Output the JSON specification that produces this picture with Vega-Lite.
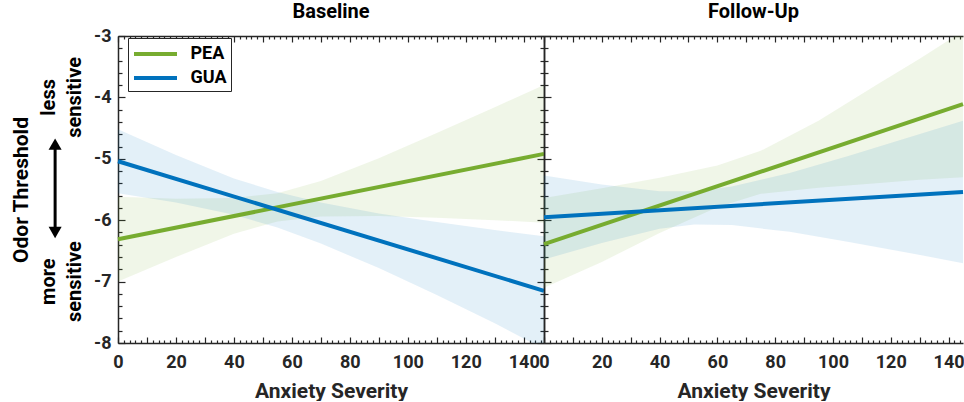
{
  "$schema": "https://vega.github.io/schema/vega-lite/v6.json",
  "background": "white",
  "padding": {"left": 10, "top": 2, "right": 0, "bottom": 0},
  "spacing": 0,
  "bounds": "flush",
  "config": {
    "font": "Roboto",
    "view": {"stroke": null},
    "axis": {
      "labelFont": "Roboto", "labelFontWeight": "bold", "labelFontSize": 18, "labelColor": "#262626",
      "titleFont": "Roboto", "titleFontWeight": "bold", "titleFontSize": 21, "titleColor": "#262626",
      "domainColor": "#262626", "domainWidth": 1.5, "tickColor": "#262626", "tickWidth": 1.2,
      "grid": false, "labelOverlap": false, "labelFlush": false, "labelBound": false, "minExtent": 0
    },
    "title": {"font": "Roboto", "fontWeight": "bold", "fontSize": 20, "color": "#000000"},
    "text": {"font": "Roboto", "fontWeight": "bold", "fontSize": 20, "color": "#000000"}
  },
  "datasets": {
    "bands": [
      {"phase": "Baseline", "odor": "PEA", "x": 0, "lo": -7.00, "hi": -5.62},
      {"phase": "Baseline", "odor": "PEA", "x": 20, "lo": -6.60, "hi": -5.65},
      {"phase": "Baseline", "odor": "PEA", "x": 40, "lo": -6.22, "hi": -5.64},
      {"phase": "Baseline", "odor": "PEA", "x": 55, "lo": -6.02, "hi": -5.56},
      {"phase": "Baseline", "odor": "PEA", "x": 70, "lo": -5.94, "hi": -5.36},
      {"phase": "Baseline", "odor": "PEA", "x": 90, "lo": -5.93, "hi": -4.99},
      {"phase": "Baseline", "odor": "PEA", "x": 110, "lo": -5.96, "hi": -4.58},
      {"phase": "Baseline", "odor": "PEA", "x": 130, "lo": -6.00, "hi": -4.16},
      {"phase": "Baseline", "odor": "PEA", "x": 147, "lo": -6.04, "hi": -3.80},
      {"phase": "Baseline", "odor": "GUA", "x": 0, "lo": -5.56, "hi": -4.52},
      {"phase": "Baseline", "odor": "GUA", "x": 20, "lo": -5.71, "hi": -4.94},
      {"phase": "Baseline", "odor": "GUA", "x": 40, "lo": -5.91, "hi": -5.32},
      {"phase": "Baseline", "odor": "GUA", "x": 55, "lo": -6.12, "hi": -5.54},
      {"phase": "Baseline", "odor": "GUA", "x": 70, "lo": -6.38, "hi": -5.71},
      {"phase": "Baseline", "odor": "GUA", "x": 90, "lo": -6.78, "hi": -5.89},
      {"phase": "Baseline", "odor": "GUA", "x": 110, "lo": -7.22, "hi": -6.03},
      {"phase": "Baseline", "odor": "GUA", "x": 130, "lo": -7.68, "hi": -6.16},
      {"phase": "Baseline", "odor": "GUA", "x": 147, "lo": -8.10, "hi": -6.26},
      {"phase": "Follow-Up", "odor": "PEA", "x": 0, "lo": -7.10, "hi": -5.64},
      {"phase": "Follow-Up", "odor": "PEA", "x": 20, "lo": -6.68, "hi": -5.48},
      {"phase": "Follow-Up", "odor": "PEA", "x": 40, "lo": -6.21, "hi": -5.31},
      {"phase": "Follow-Up", "odor": "PEA", "x": 60, "lo": -5.79, "hi": -5.11},
      {"phase": "Follow-Up", "odor": "PEA", "x": 75, "lo": -5.57, "hi": -4.87},
      {"phase": "Follow-Up", "odor": "PEA", "x": 95, "lo": -5.47, "hi": -4.38},
      {"phase": "Follow-Up", "odor": "PEA", "x": 115, "lo": -5.40, "hi": -3.80},
      {"phase": "Follow-Up", "odor": "PEA", "x": 130, "lo": -5.34, "hi": -3.37},
      {"phase": "Follow-Up", "odor": "PEA", "x": 145, "lo": -5.30, "hi": -2.92},
      {"phase": "Follow-Up", "odor": "GUA", "x": 0, "lo": -6.64, "hi": -5.27},
      {"phase": "Follow-Up", "odor": "GUA", "x": 20, "lo": -6.37, "hi": -5.42},
      {"phase": "Follow-Up", "odor": "GUA", "x": 40, "lo": -6.14, "hi": -5.53},
      {"phase": "Follow-Up", "odor": "GUA", "x": 52, "lo": -6.07, "hi": -5.53},
      {"phase": "Follow-Up", "odor": "GUA", "x": 65, "lo": -6.08, "hi": -5.45},
      {"phase": "Follow-Up", "odor": "GUA", "x": 85, "lo": -6.19, "hi": -5.23},
      {"phase": "Follow-Up", "odor": "GUA", "x": 105, "lo": -6.35, "hi": -4.96},
      {"phase": "Follow-Up", "odor": "GUA", "x": 125, "lo": -6.52, "hi": -4.67},
      {"phase": "Follow-Up", "odor": "GUA", "x": 145, "lo": -6.70, "hi": -4.38}
    ],
    "fits": [
      {"phase": "Baseline", "odor": "PEA", "x": 0, "fit": -6.31},
      {"phase": "Baseline", "odor": "PEA", "x": 147, "fit": -4.92},
      {"phase": "Baseline", "odor": "GUA", "x": 0, "fit": -5.04},
      {"phase": "Baseline", "odor": "GUA", "x": 147, "fit": -7.15},
      {"phase": "Follow-Up", "odor": "PEA", "x": 0, "fit": -6.39},
      {"phase": "Follow-Up", "odor": "PEA", "x": 145, "fit": -4.11},
      {"phase": "Follow-Up", "odor": "GUA", "x": 0, "fit": -5.95},
      {"phase": "Follow-Up", "odor": "GUA", "x": 145, "fit": -5.54}
    ]
  },
  "resolve": {"scale": {"color": "independent"}, "legend": {"color": "independent"}},
  "hconcat": [
    {
      "width": 426,
      "height": 307,
      "title": {"text": "Baseline", "offset": 5},
      "resolve": {"axis": {"x": "independent", "y": "independent"}},
      "layer": [
        {
          "data": {"name": "bands"},
          "transform": [{"filter": "datum.phase === 'Baseline'"}],
          "mark": {"type": "area", "clip": true, "fillOpacity": 0.11},
          "encoding": {
            "x": {"field": "x", "type": "quantitative", "scale": {"domain": [0, 147], "nice": false, "zero": false},
              "axis": {"orient": "bottom", "title": "Anxiety Severity", "titlePadding": 6, "tickCount": 74,
                "labelExpr": "datum.value % 20 === 0 ? datum.label : ''",
                "tickSize": {"condition": {"test": "datum.value % 10 === 0", "value": -6}, "value": -3},
                "labelPadding": 16}},
            "y": {"field": "lo", "type": "quantitative", "scale": {"domain": [-8, -3], "nice": false, "zero": false},
              "axis": {"orient": "left", "title": "Odor Threshold", "titlePadding": 62, "titleColor": "#000000", "tickCount": 25,
                "labelExpr": "datum.value === round(datum.value) ? '' + datum.value : ''",
                "tickSize": {"condition": {"test": "datum.value === round(datum.value)", "value": -7}, "value": -4},
                "labelPadding": 14}},
            "y2": {"field": "hi"},
            "color": {"field": "odor", "type": "nominal", "scale": {"domain": ["PEA", "GUA"], "range": ["#77AC30", "#0072BD"]}}
          }
        },
        {
          "data": {"name": "fits"},
          "transform": [{"filter": "datum.phase === 'Baseline'"}],
          "mark": {"type": "line", "strokeWidth": 4},
          "encoding": {
            "x": {"field": "x", "type": "quantitative", "scale": {"domain": [0, 147], "nice": false, "zero": false},
              "axis": {"orient": "top", "title": null, "labels": false, "tickCount": 74,
                "tickSize": {"condition": {"test": "datum.value % 10 === 0", "value": -6}, "value": -3}}},
            "y": {"field": "fit", "type": "quantitative", "scale": {"domain": [-8, -3], "nice": false, "zero": false},
              "axis": {"orient": "right", "title": null, "labels": false, "tickCount": 25,
                "tickSize": {"condition": {"test": "datum.value === round(datum.value)", "value": -7}, "value": -4}}},
            "color": {"field": "odor", "type": "nominal",
              "scale": {"domain": ["PEA", "GUA"], "range": ["#77AC30", "#0072BD"]},
              "legend": {"orient": "none", "legendX": 10, "legendY": 2, "title": null, "symbolType": "M-2.15,0H2.15",
                "symbolStrokeWidth": 4, "symbolSize": 400, "symbolOffset": 11.5, "symbolOpacity": 1, "symbolFillColor": "transparent",
                "labelFont": "Roboto", "labelFontWeight": "bold",
                "labelFontSize": 18, "labelColor": "#000000", "labelOffset": 23, "strokeColor": "#262626",
                "fillColor": "#ffffff", "padding": 4, "rowPadding": 3, "columnPadding": 0, "cornerRadius": 0}}
          }
        },
        {
          "data": {"values": [{}]},
          "mark": {"type": "text", "text": "less", "angle": 270, "align": "center", "baseline": "middle"},
          "encoding": {
            "x": {"datum": -23.8, "scale": {"domain": [0, 147], "nice": false, "zero": false}, "axis": null},
            "y": {"datum": -4.0, "scale": {"domain": [-8, -3], "nice": false, "zero": false}, "axis": null}
          }
        },
        {
          "data": {"values": [{}]},
          "mark": {"type": "text", "text": "sensitive", "angle": 270, "align": "center", "baseline": "middle"},
          "encoding": {
            "x": {"datum": -14.8, "scale": {"domain": [0, 147], "nice": false, "zero": false}, "axis": null},
            "y": {"datum": -4.0, "scale": {"domain": [-8, -3], "nice": false, "zero": false}, "axis": null}
          }
        },
        {
          "data": {"values": [{}]},
          "mark": {"type": "text", "text": "more", "angle": 270, "align": "center", "baseline": "middle"},
          "encoding": {
            "x": {"datum": -23.8, "scale": {"domain": [0, 147], "nice": false, "zero": false}, "axis": null},
            "y": {"datum": -7.0, "scale": {"domain": [-8, -3], "nice": false, "zero": false}, "axis": null}
          }
        },
        {
          "data": {"values": [{}]},
          "mark": {"type": "text", "text": "sensitive", "angle": 270, "align": "center", "baseline": "middle"},
          "encoding": {
            "x": {"datum": -14.8, "scale": {"domain": [0, 147], "nice": false, "zero": false}, "axis": null},
            "y": {"datum": -7.0, "scale": {"domain": [-8, -3], "nice": false, "zero": false}, "axis": null}
          }
        },
        {
          "data": {"values": [{}]},
          "mark": {"type": "rule", "strokeWidth": 3, "color": "#000000"},
          "encoding": {
            "x": {"datum": -21.7, "scale": {"domain": [0, 147], "nice": false, "zero": false}, "axis": null},
            "y": {"datum": -4.8, "scale": {"domain": [-8, -3], "nice": false, "zero": false}, "axis": null},
            "y2": {"datum": -6.17}
          }
        },
        {
          "data": {"values": [{}]},
          "mark": {"type": "point", "shape": "triangle-up", "filled": true, "size": 170, "color": "#000000", "opacity": 1},
          "encoding": {
            "x": {"datum": -21.7, "scale": {"domain": [0, 147], "nice": false, "zero": false}, "axis": null},
            "y": {"datum": -4.76, "scale": {"domain": [-8, -3], "nice": false, "zero": false}, "axis": null}
          }
        },
        {
          "data": {"values": [{}]},
          "mark": {"type": "point", "shape": "triangle-down", "filled": true, "size": 170, "color": "#000000", "opacity": 1},
          "encoding": {
            "x": {"datum": -21.7, "scale": {"domain": [0, 147], "nice": false, "zero": false}, "axis": null},
            "y": {"datum": -6.2, "scale": {"domain": [-8, -3], "nice": false, "zero": false}, "axis": null}
          }
        }
      ]
    },
    {
      "width": 419,
      "height": 307,
      "title": {"text": "Follow-Up", "offset": 13},
      "resolve": {"axis": {"x": "independent", "y": "independent"}},
      "layer": [
        {
          "data": {"name": "bands"},
          "transform": [{"filter": "datum.phase === 'Follow-Up'"}],
          "mark": {"type": "area", "clip": true, "fillOpacity": 0.11},
          "encoding": {
            "x": {"field": "x", "type": "quantitative", "scale": {"domain": [0, 145], "nice": false, "zero": false},
              "axis": {"orient": "bottom", "title": "Anxiety Severity", "titlePadding": 6, "tickCount": 73,
                "labelExpr": "datum.value % 20 === 0 ? datum.label : ''",
                "tickSize": {"condition": {"test": "datum.value % 10 === 0", "value": -6}, "value": -3},
                "labelPadding": 16}},
            "y": {"field": "lo", "type": "quantitative", "scale": {"domain": [-8, -3], "nice": false, "zero": false},
              "axis": {"orient": "left", "title": null, "labels": false, "tickCount": 25,
                "tickSize": {"condition": {"test": "datum.value === round(datum.value)", "value": -7}, "value": -4}}},
            "y2": {"field": "hi"},
            "color": {"field": "odor", "type": "nominal", "scale": {"domain": ["PEA", "GUA"], "range": ["#77AC30", "#0072BD"]}, "legend": null}
          }
        },
        {
          "data": {"name": "fits"},
          "transform": [{"filter": "datum.phase === 'Follow-Up'"}],
          "mark": {"type": "line", "strokeWidth": 4},
          "encoding": {
            "x": {"field": "x", "type": "quantitative", "scale": {"domain": [0, 145], "nice": false, "zero": false},
              "axis": {"orient": "top", "title": null, "labels": false, "tickCount": 73,
                "tickSize": {"condition": {"test": "datum.value % 10 === 0", "value": -6}, "value": -3}}},
            "y": {"field": "fit", "type": "quantitative", "scale": {"domain": [-8, -3], "nice": false, "zero": false}, "axis": null},
            "color": {"field": "odor", "type": "nominal", "scale": {"domain": ["PEA", "GUA"], "range": ["#77AC30", "#0072BD"]}, "legend": null}
          }
        }
      ]
    }
  ]
}
